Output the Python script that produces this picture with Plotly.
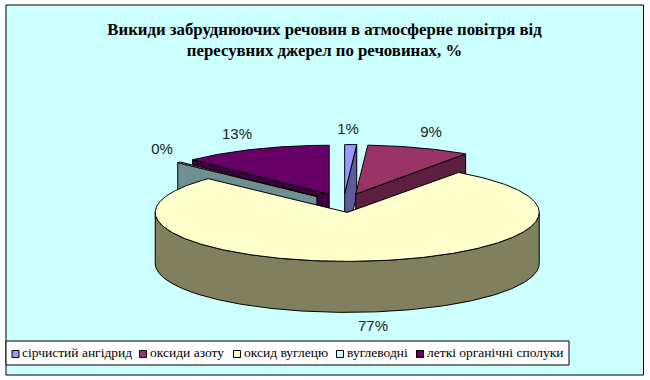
import math
import plotly.graph_objects as go

categories = ["сірчистий ангідрид", "оксиди азоту", "оксид вуглецю", "вуглеводні", "леткі органічні сполуки"]
values = [1.0, 8.7, 77.4, 0.3, 12.6]
top_colors = ["#9999FF", "#993366", "#FFFFCC", "#CCFFFF", "#660066"]
face_colors = ["#5C5C99", "#5C1F3D", "#80805F", "#6F9090", "#3D003D"]
title_lines = ["Викиди забруднюючих речовин в атмосферне повітря від", "пересувних джерел по речовинах, %"]

CX, CY, A, B, DEPTH, EXPLODE = 343.5, 203, 192, 49, 51, 0.193
total = sum(values)

def pt(c, ang, r=1.0, dy=0):
    t = math.radians(ang)
    return c[0] + A * r * math.sin(t), c[1] - B * r * math.cos(t) + dy

def arc(c, a0, a1, dy=0):
    n = max(2, int(abs(a1 - a0) * 2))
    return [pt(c, a0 + (a1 - a0) * i / n, 1.0, dy) for i in range(n + 1)]

starts, acc = [], 0.0
for v in values:
    starts.append(acc)
    acc += v / total * 360
ends = [s + v / total * 360 for s, v in zip(starts, values)]
centers = []
for s, e in zip(starts, ends):
    m = (s + e) / 2
    centers.append(pt((CX, CY), m, EXPLODE))

fig = go.Figure()

def poly(points, color, name):
    xs = [p[0] for p in points] + [points[0][0]]
    ys = [p[1] for p in points] + [points[0][1]]
    fig.add_trace(go.Scatter(x=xs, y=ys, mode="lines", fill="toself", fillcolor=color,
                             line=dict(color="#000000", width=1), showlegend=False,
                             hoverinfo="skip", name=name))

def radial_face(i, ang):
    c = centers[i]
    p = pt(c, ang)
    return [c, p, (p[0], p[1] + DEPTH), (c[0], c[1] + DEPTH)]

# back to front: purple, grey, blue, red, yellow
poly(radial_face(4, starts[4]), face_colors[4], categories[4])
poly([centers[4]] + arc(centers[4], starts[4], ends[4]), top_colors[4], categories[4])
poly(radial_face(3, starts[3]), face_colors[3], categories[3])
poly([centers[3]] + arc(centers[3], starts[3], ends[3]), top_colors[3], categories[3])
poly(radial_face(0, ends[0]), face_colors[0], categories[0])
poly([centers[0]] + arc(centers[0], starts[0], ends[0]), top_colors[0], categories[0])
poly(radial_face(1, ends[1]), face_colors[1], categories[1])
poly([centers[1]] + arc(centers[1], starts[1], ends[1]), top_colors[1], categories[1])
wall = arc(centers[2], 90, 270) + arc(centers[2], 270, 90, DEPTH)
poly(wall, face_colors[2], categories[2])
poly([centers[2]] + arc(centers[2], starts[2], ends[2]), top_colors[2], categories[2])

# percent labels
label_x = [348, 431, 373, 162, 237]
label_y = [130, 133, 327, 150, 135]
fig.add_trace(go.Scatter(x=label_x, y=label_y, mode="text",
                         text=[f"{round(v / total * 100)}%" for v in values],
                         textfont=dict(family="Liberation Sans", size=15, color="#222222"),
                         showlegend=False, hoverinfo="skip"))

# legend row
marker_x = [15.5, 143, 237, 340, 420]
text_x = [22, 150, 244, 347, 427]
legend_y = 354
fig.add_trace(go.Scatter(x=marker_x, y=[legend_y] * 5, mode="markers",
                         marker=dict(symbol="square", size=7, color=top_colors,
                                     line=dict(color="#000000", width=1)),
                         showlegend=False, hoverinfo="skip"))
fig.add_trace(go.Scatter(x=text_x, y=[legend_y] * 5, mode="text", text=categories,
                         textposition="middle right",
                         textfont=dict(family="Liberation Serif", size=13.5, color="#000000"),
                         showlegend=False, hoverinfo="skip"))

fig.update_layout(
    width=650, height=380, margin=dict(l=0, r=0, t=0, b=0),
    paper_bgcolor="#FFFFFF", plot_bgcolor="#FFFFFF",
    title=dict(text="<b>" + "<br>".join(title_lines) + "</b>",
               x=324.5 / 650, xanchor="center", y=1 - 34.5 / 380, yanchor="top",
               font=dict(family="Liberation Serif", size=16.8, color="#000000")),
    xaxis=dict(range=[0, 650], visible=False, fixedrange=True),
    yaxis=dict(range=[380, 0], visible=False, fixedrange=True),
    shapes=[
        dict(type="rect", x0=6, y0=5, x1=643.5, y1=375, layer="below",
             fillcolor="#CCFFFF", line=dict(color="#000000", width=1)),
        dict(type="rect", x0=6, y0=341, x1=569, y1=365, layer="below",
             fillcolor="#FFFFFF", line=dict(color="#000000", width=1)),
    ],
)
fig.write_html("out.html", config={"displayModeBar": False},
               post_script="document.body.style.margin='0';document.documentElement.style.overflow='hidden';")
